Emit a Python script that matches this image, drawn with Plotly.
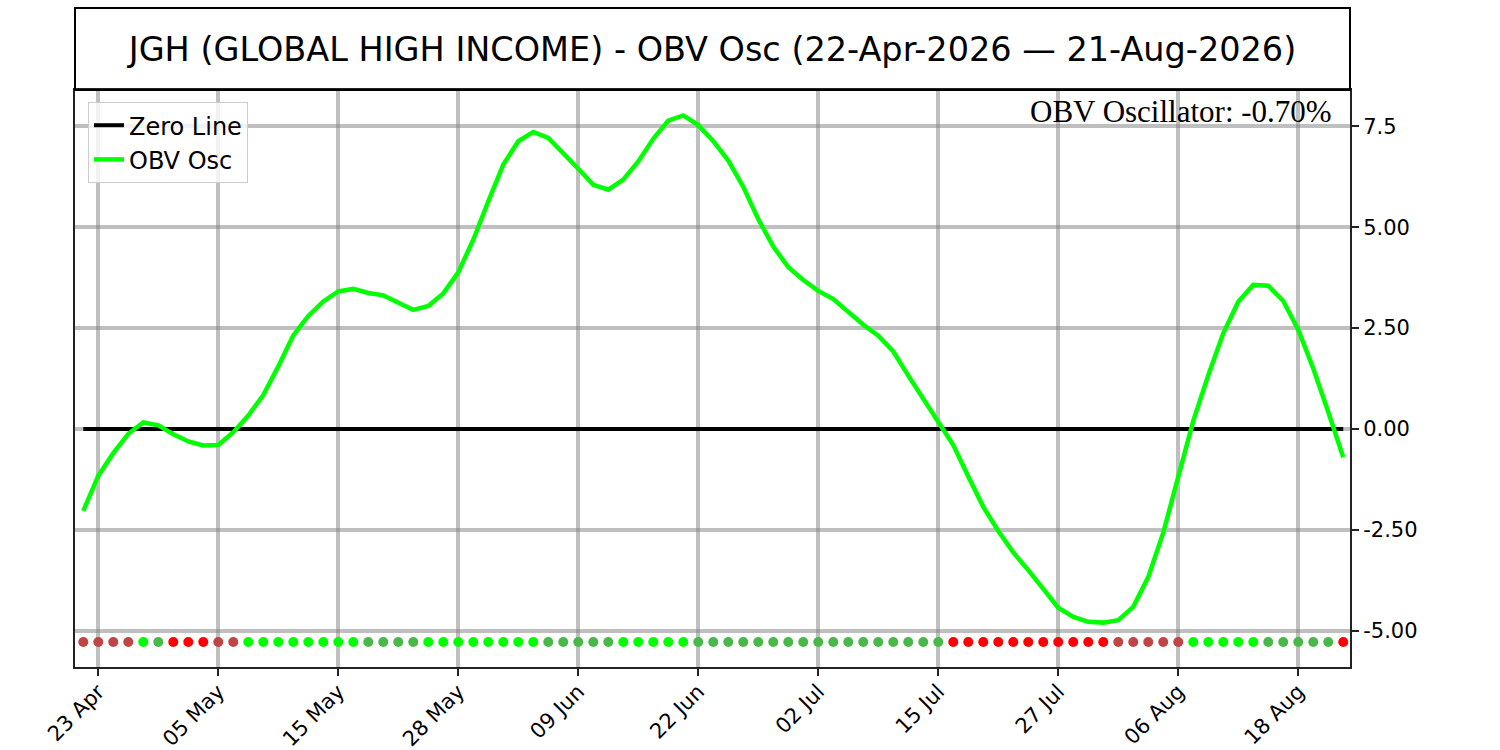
import plotly.graph_objects as go
import pandas as pd

# trading days 22-Apr-2026 .. 21-Aug-2026 (US market holidays removed)
holidays = ['2026-05-25', '2026-06-19', '2026-07-03']
days = pd.bdate_range('2026-04-22', '2026-08-21')
days = days[~days.isin(pd.to_datetime(holidays))]
dates = [d.strftime('%Y-%m-%d') for d in days]

# OBV oscillator values (%), one per trading day
obv_osc = [-2.03, -1.16, -0.60, -0.12, 0.16, 0.09, -0.13, -0.31, -0.41, -0.40,
           -0.08, 0.33, 0.84, 1.55, 2.32, 2.80, 3.16, 3.41, 3.47, 3.37,
           3.31, 3.12, 2.95, 3.05, 3.36, 3.88, 4.69, 5.64, 6.55, 7.13,
           7.36, 7.21, 6.84, 6.45, 6.05, 5.93, 6.18, 6.63, 7.19, 7.64,
           7.77, 7.53, 7.13, 6.65, 6.00, 5.20, 4.52, 4.01, 3.69, 3.42,
           3.22, 2.91, 2.58, 2.31, 1.92, 1.32, 0.74, 0.21, -0.40, -1.18,
           -1.93, -2.53, -3.06, -3.50, -3.95, -4.43, -4.66, -4.78, -4.80, -4.74,
           -4.41, -3.67, -2.57, -1.18, 0.20, 1.33, 2.37, 3.15, 3.57, 3.55,
           3.17, 2.46, 1.50, 0.42, -0.70]

# daily signal dots: L = above zero & rising, M = above zero & falling,
# R = below zero & falling, D = below zero & rising
signals = ('DDDDLMRRRDD' 'LLLLLLLL' 'MMMM' 'LLLLLLLL' 'MMMMM' 'LLLLL'
           'MMMMMMMMMMMMMMMMM' 'RRRRRRRRRRR' 'DDDDD' 'LLLLL' 'MMMMM' 'R')
signal_colors = {'L': '#00ff00', 'M': '#48b848', 'R': '#ff0000', 'D': '#c04646'}

tick_dates = dates[1::8]
tick_labels = [pd.Timestamp(d).strftime('%d %b') for d in tick_dates]

y_ticks = [-5, -2.5, 0, 2.5, 5, 7.5]
y_tick_labels = ['-5.00', '-2.50', '0.00', '2.50', '5.00', '7.5']

title = 'JGH (GLOBAL HIGH INCOME) - OBV Osc (22-Apr-2026 \u2014 21-Aug-2026)'
last_value = obv_osc[-1]
dot_y = min(obv_osc) * 1.1

grid = 'rgba(128,128,128,0.5)'

fig = go.Figure()

fig.add_trace(go.Scatter(
    x=[dates[0], dates[-1]], y=[0, 0],
    mode='lines', name='Zero Line',
    line=dict(color='black', width=4)
))

fig.add_trace(go.Scatter(
    x=dates, y=obv_osc,
    mode='lines', name='OBV Osc',
    line=dict(color='#00ff00', width=4.5)
))

fig.add_trace(go.Scatter(
    x=dates, y=[dot_y] * len(dates),
    mode='markers', showlegend=False,
    marker=dict(size=10, color=[signal_colors[s] for s in signals])
))

plot_h = 750 - 90 - 83
fig.add_shape(type='rect', xref='paper', yref='paper',
              x0=0, x1=1, y0=1, y1=1 + 82 / plot_h,
              line=dict(color='black', width=2))

fig.add_annotation(
    text=f'OBV Oscillator: {last_value:.2f}%',
    xref='paper', yref='paper', x=0.9875, y=0.997,
    xanchor='right', yanchor='top', showarrow=False,
    font=dict(family='Liberation Serif', size=31, color='black')
)

fig.update_layout(
    width=1500, height=750,
    margin=dict(l=75, r=150, t=90, b=83, autoexpand=False),
    paper_bgcolor='white', plot_bgcolor='white',
    font=dict(family='DejaVu Sans', color='black'),
    title=dict(text=title, x=0.5, xref='paper', y=1 - 49 / 750,
               yanchor='middle', font=dict(size=33.5, color='black')),
    legend=dict(x=0.0102, y=0.979, xanchor='left', yanchor='top',
                bgcolor='rgba(255,255,255,0.8)', bordercolor='#cccccc',
                borderwidth=1, itemwidth=30, font=dict(size=24)),
    xaxis=dict(
        type='category', categoryorder='array', categoryarray=dates,
        range=[-0.553, 84.45],
        tickvals=tick_dates, ticktext=tick_labels, tickangle=-45,
        ticks='outside', ticklen=7, tickwidth=2, tickcolor='#222',
        tickfont=dict(size=21), ticklabelstandoff=-5,
        showgrid=True, gridcolor=grid, gridwidth=4,
        showline=True, linecolor='#222', linewidth=2, mirror=True,
        zeroline=False
    ),
    yaxis=dict(
        side='right', range=[-5.9, 8.4],
        tickvals=y_ticks, ticktext=y_tick_labels,
        ticks='outside', ticklen=7, tickwidth=2, tickcolor='#222',
        tickfont=dict(size=21),
        showgrid=True, gridcolor=grid, gridwidth=4,
        showline=True, linecolor='#222', linewidth=2, mirror=True,
        zeroline=False
    )
)

# page body has a default 8px margin; drop it so the figure fills the window
fig.write_html('out.html', config={'displayModeBar': False},
               post_script="document.body.style.margin='0';")
